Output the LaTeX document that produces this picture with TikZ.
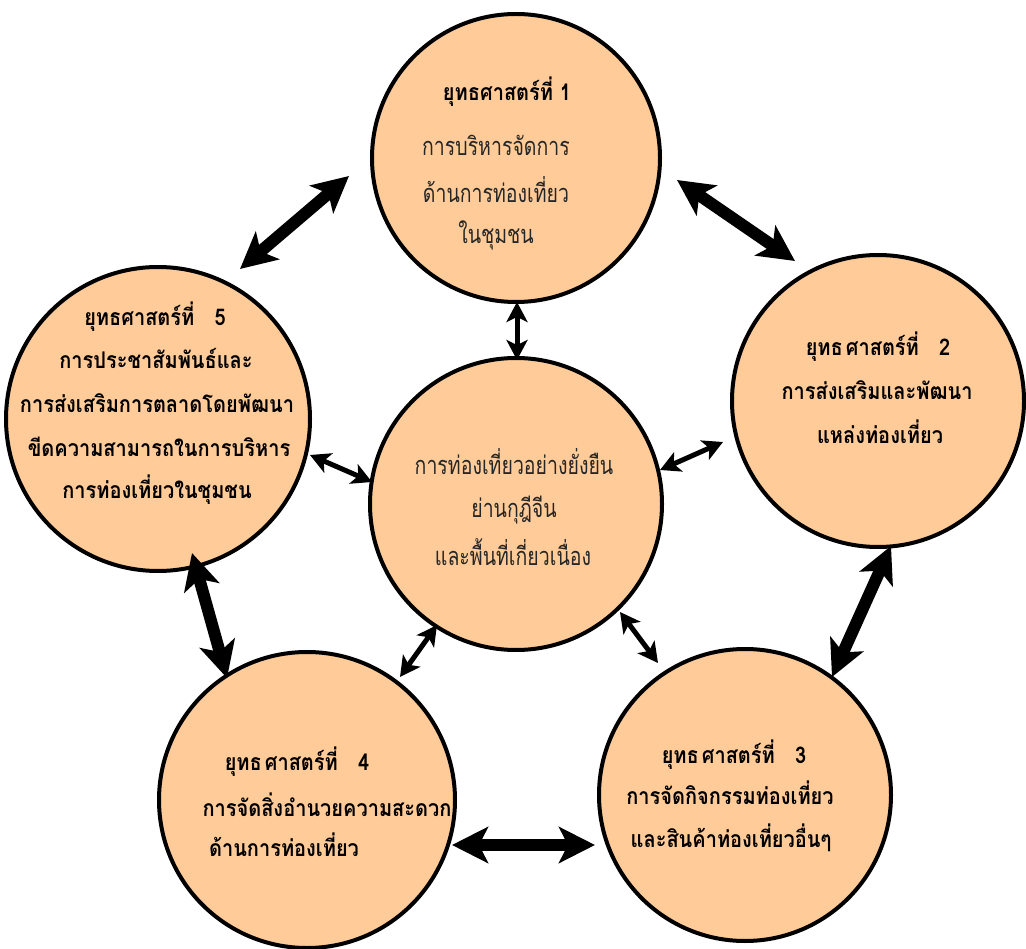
\documentclass[tikz,border=0pt]{standalone}
\usepackage{fontspec}
\usepackage{graphicx}
\newfontfamily\thai[Script=Thai]{Loma}
\usetikzlibrary{arrows.meta}
\definecolor{peach}{RGB}{255,204,153}
\newcommand\bsq[1]{\scalebox{1}[1.15]{#1}}
\newcommand\rsq[1]{\scalebox{1}[1.3]{#1}}
\tikzset{
  bub/.style={circle,draw=black,line width=4pt,fill=peach,inner sep=0pt},
  bt/.style={font=\thai\bfseries\fontsize{20}{24}\selectfont,inner sep=0pt},
  rt/.style={font=\thai\fontsize{19.5}{24}\selectfont,inner sep=0pt,text=black!85},
  bigarr/.style={line width=12pt,{Stealth[length=36pt,width=36pt,inset=9pt]}-{Stealth[length=36pt,width=36pt,inset=9pt]}},
  smallarr/.style={line width=5pt,{Stealth[length=20pt,width=21pt,inset=5pt]}-{Stealth[length=20pt,width=21pt,inset=5pt]}}
}
\begin{document}
\begin{tikzpicture}[x=1pt,y=-1pt]
\useasboundingbox (0,0) rectangle (1026,949);
% circles
\node[bub,minimum size=288pt] (c1) at (516,158) {};
\node[bub,minimum size=304pt] (c5) at (158,419) {};
\node[bub,minimum size=292pt] (c2) at (878,401) {};
\node[bub,minimum size=292pt] (c0) at (516,504) {};
\node[bub,minimum size=296pt] (c4) at (307,800) {};
\node[bub,minimum size=292pt] (c3) at (745,795) {};
% arrow end points
\coordinate (a15a) at (349,176); \coordinate (a15b) at (240,269);
\coordinate (a12a) at (677,180); \coordinate (a12b) at (795,261);
\coordinate (a23a) at (891,546); \coordinate (a23b) at (832,677);
\coordinate (a34a) at (595,845); \coordinate (a34b) at (452,845);
\coordinate (a45a) at (227,678); \coordinate (a45b) at (192,553);
\coordinate (i1a) at (517,302); \coordinate (i1b) at (517,360);
\coordinate (i2a) at (660,470); \coordinate (i2b) at (723,442);
\coordinate (i5a) at (372,482); \coordinate (i5b) at (310,455);
\coordinate (i4a) at (437,625); \coordinate (i4b) at (400,677);
\coordinate (i3a) at (620,612); \coordinate (i3b) at (658,663);
\draw[bigarr] (a15a) -- (a15b);
\draw[bigarr] (a12a) -- (a12b);
\draw[bigarr] (a23a) -- (a23b);
\draw[bigarr] (a34a) -- (a34b);
\draw[bigarr] (a45a) -- (a45b);
\draw[smallarr] (i1a) -- (i1b);
\draw[smallarr] (i2a) -- (i2b);
\draw[smallarr] (i5a) -- (i5b);
\draw[smallarr] (i4a) -- (i4b);
\draw[smallarr] (i3a) -- (i3b);
% texts circle 1
\node[bt] (t1a) at (507,92) {\bsq{ยุทธศาสตร์ที่ 1}};
\node[rt] (t1b) at (496,145) {\rsq{การบริหารจัดการ}};
\node[rt] (t1c) at (496,190) {\rsq{ด้านการท่องเที่ยว}};
\node[rt] (t1d) at (496,235) {\rsq{ในชุมชน}};
% circle 5
\node[bt] (t5a) at (155,317) {\bsq{ยุทธศาสตร์ที่~~~5}};
\node[bt] (t5b) at (156,358) {\bsq{การประชาสัมพันธ์และ}};
\node[bt] (t5c) at (157,403) {\bsq{การส่งเสริมการตลาดโดยพัฒนา}};
\node[bt] (t5d) at (159,447) {\bsq{ขีดความสามารถในการบริหาร}};
\node[bt] (t5e) at (157,490) {\bsq{การท่องเที่ยวในชุมชน}};
% circle 2
\node[bt] (t2a) at (878,347) {\bsq{ยุทธ\hspace{3pt}ศาสตร์ที่~~~2}};
\node[bt] (t2b) at (877,390) {\bsq{การส่งเสริมและพัฒนา}};
\node[bt] (t2c) at (880,432) {\bsq{แหล่งท่องเที่ยว}};
% center
\node[rt] (t0a) at (514,462) {\rsq{การท่องเที่ยวอย่างยั่งยืน}};
\node[rt] (t0b) at (514,510) {\rsq{ย่านกุฎีจีน}};
\node[rt] (t0c) at (513,552) {\rsq{และพื้นที่เกี่ยวเนื่อง}};
% circle 4
\node[bt] (t4a) at (297,762) {\bsq{ยุทธ\hspace{3pt}ศาสตร์ที่~~~4}};
\node[bt] (t4b) at (327,805) {\bsq{การจัดสิ่งอำนวยความสะดวก}};
\node[bt] (t4c) at (284,845) {\bsq{ด้านการท่องเที่ยว}};
% circle 3
\node[bt] (t3a) at (734,755) {\bsq{ยุทธ\hspace{3pt}ศาสตร์ที่~~~3}};
\node[bt] (t3b) at (730,793) {\bsq{การจัดกิจกรรมท่องเที่ยว}};
\node[bt] (t3c) at (731,838) {\bsq{และสินค้าท่องเที่ยวอื่นๆ}};
\end{tikzpicture}
\end{document}
